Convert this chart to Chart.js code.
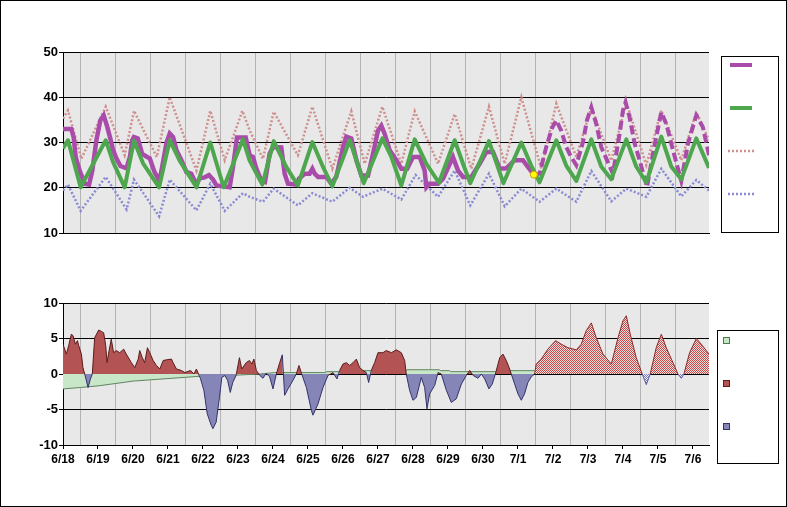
<!DOCTYPE html>
<html>
<head>
<meta charset="utf-8">
<script src="https://cdn.jsdelivr.net/npm/chart.js@4.4.0/dist/chart.umd.min.js"></script>
<style>
  html, body { margin: 0; padding: 0; background: #fff; }
  .wrap { position: absolute; left: 0; }
  #top-wrap { top: 0; }
  #bottom-wrap { top: 250px; }
  #frame { position: absolute; left: 0; top: 0; width: 787px; height: 507px; box-sizing: border-box; border: 1px solid #000; pointer-events: none; }
</style>
</head>
<body>
<div class="wrap" id="top-wrap"><canvas id="temp-chart" width="787" height="245"></canvas></div>
<div class="wrap" id="bottom-wrap"><canvas id="dev-chart" width="787" height="257"></canvas></div>
<div id="frame"></div>
<script>
// x values are hours since 6/18 00:00
const dayLabels = ['6/18', '6/19', '6/20', '6/21', '6/22', '6/23', '6/24', '6/25', '6/26', '6/27',
    '6/28', '6/29', '6/30', '7/1', '7/2', '7/3', '7/4', '7/5', '7/6'];
const tempTicks = [10, 20, 30, 40, 50];
const devTicks = [-10, -5, 0, 5, 10];

// observed temperature
const obsHours = [0, 5.7, 7.3, 8.7, 11.4, 14.9, 17.9, 20.1, 22.9, 25.6, 27.9, 30.4, 32.2, 34.4, 36.6, 39.4, 43.5, 46, 47.5, 48.6,
    51.3, 54.3, 57.7, 59.5, 62.7, 66.2, 68.5, 71, 73.2, 75.5, 77.8, 81.2, 84.6, 88, 91.5, 93.7, 97.2, 100.1, 102.9, 105.2,
    114.3, 116.6, 119.3, 125.3, 128, 130.3, 132.6, 136, 138.5, 141.7, 144, 149.7, 152, 154.3, 160, 161.8, 165.7, 169.1, 171, 172.6,
    174.9, 180.6, 184, 187.4, 192, 194.3, 197.7, 201.2, 204.6, 209.2, 212.6, 216, 218.3, 220.6, 224, 228.6, 232, 236, 240, 244.6,
    248, 249.2, 251.4, 257.2, 260.6, 267.4, 270.9, 274.3, 280, 285.7, 290.3, 294.9, 299.5, 304, 309.7, 315.4, 318.8, 322.9];
const obsTemp = [33, 33, 31.2, 26.8, 23.8, 20.9, 20.7, 23.8, 30.5, 34.9, 36, 33.4, 31.2, 28.3, 26.5, 24.8, 24.3, 27, 30.5, 31.2,
    30.9, 27.5, 26.8, 26.5, 23.5, 21.5, 25.5, 30, 32, 31.2, 28.3, 26.1, 23.5, 23.1, 20.7, 22.1, 22.3, 22.8, 21.8, 20.5,
    20.1, 24.6, 31.1, 31.1, 27.2, 26.8, 24.2, 21.6, 21.3, 27.5, 29, 28.9, 23.1, 20.9, 20.7, 22, 23.1, 23.1, 24.2, 23.1,
    22.4, 22.4, 20.9, 22.4, 29, 31.3, 30.9, 26.1, 22.7, 22.7, 27.5, 32.6, 33.7, 31.9, 28.3, 26.1, 24.2, 24.2, 26.8, 26.8,
    23.8, 20.1, 20.9, 20.9, 22, 26.8, 23.8, 22.4, 22.4, 25.3, 27.9, 27.9, 24.2, 24.3, 26.1, 26.1, 24.6, 22.9];
const lastObs = [322.9, 22.9];

// forecast temperature
const fcstHours = [322.9, 326.8, 331.4, 335.5, 338.3, 341.7, 345.1, 348.5, 352, 356.6, 359.3, 362.3, 365.7, 369.1, 372.5, 377.1,
    381.7, 384, 385.8, 388.5, 392, 395.4, 398, 400.5, 405, 410.3, 413.7, 418.3, 424, 428.6, 434.3, 438.8, 443];
const fcstTemp = [22.9, 23.1, 29, 33.3, 34.9, 32.6, 29, 26.8, 25, 30.1, 34.9, 37.8, 34.1, 29, 26.5, 23.1,
    31.9, 37.1, 38.9, 35.6, 29.8, 26.1, 23, 20.2, 28.3, 36.7, 34.1, 28.3, 21.5, 29.8, 36, 33.4, 27.2];

// normal temperature
const normHours = [0, 3.4, 12.1, 29.3, 34.3, 42.3, 48.7, 54.9, 65.9, 73.2, 80, 91.5, 101, 110.2, 123.4, 128, 136.7, 144.5, 153.1, 161.1,
    171, 178.3, 184.7, 196.6, 201.2, 206.2, 219, 225.2, 232, 241.2, 249.2, 257.8, 268.6, 274.3, 279.3, 292.1, 302, 314.3, 321.1, 326.8,
    338.3, 345.1, 352, 362.3, 369.1, 376, 386.3, 393.1, 400, 410.3, 417.1, 424, 434.3, 443];
const normTemp = [28.7, 30.5, 20.1, 30.5, 25.7, 20.1, 30.4, 25.4, 20.1, 30.5, 26, 20.1, 30, 20.1, 30.7, 26, 20.7, 30.3, 24.6, 20.5,
    30.1, 24.6, 20.3, 30.5, 26, 21, 30.9, 26.8, 20.5, 30.7, 25.3, 21.1, 30.5, 25.3, 21, 30.3, 21, 30, 24.9, 21.2,
    30.5, 24.9, 21.5, 30.7, 24.7, 21.9, 30.7, 24.7, 21.2, 31.3, 24.7, 21.9, 30.9, 24.4];

// record high / record low
const highHours = [0, 3.4, 12.6, 29.3, 42.3, 48.7, 64.3, 73.2, 91.5, 101, 110.9, 123, 128, 137.1, 144.5, 161.1, 171, 184.7, 197.7, 206.9,
    219, 232, 241.2, 257.2, 268.6, 280, 292.1, 302.9, 314.3, 328, 338.3, 352, 362.3, 376, 386.3, 400, 410.3, 424, 434.3, 443];
const highTemp = [35.3, 37.1, 26.4, 37.9, 27.2, 37, 26.8, 40, 23.8, 37, 26.1, 37, 32.7, 26.4, 36.8, 27.2, 37.9, 24.2, 36.9, 25.3,
    37.9, 25.3, 36.9, 25.3, 36.3, 24.2, 37.9, 25.3, 40, 24.2, 38.6, 26.8, 37.8, 26, 38.9, 25, 37.1, 26.1, 36.7, 30.5];
const lowHours = [0, 3.4, 12.1, 29.3, 43.6, 48.7, 65.9, 73.2, 91.5, 101, 110.9, 123.4, 128, 137.1, 144.5, 161.1, 171, 184.7, 196.6, 205.7,
    219, 232, 241.8, 257.2, 268.6, 279.3, 292.1, 302.9, 314.3, 326.8, 338.3, 352, 362.3, 376, 386.3, 400, 410.3, 424, 434.3, 443];
const lowTemp = [19.4, 20.7, 14.9, 22.4, 15.2, 21.8, 13.7, 21.8, 15, 20.9, 14.9, 18.8, 18, 16.9, 19.8, 16.1, 18.8, 16.9, 20, 18,
    19.8, 17.4, 22.8, 18, 23.8, 16.1, 23.1, 15.9, 19.8, 16.9, 19.8, 16.9, 23.7, 17, 19.8, 18, 24.2, 18.1, 21.7, 19.4];

// deviation from normal (observed)
const devHours = [0, 2.3, 3.9, 5.7, 6.9, 8.5, 9.9, 10.8, 12.6, 13.7, 14.9, 17.2, 18.8, 20.1, 21.7, 24.5, 26.3, 27.9, 29.3, 30.2,
    31.6, 33.1, 34.7, 36.6, 38.9, 41.6, 43.4, 46.9, 49.2, 51.6, 52.6, 54.4, 56, 57.9, 59.5, 61.8, 64.1, 66.4, 68.7, 71,
    74.4, 75.5, 77.8, 81.2, 83.6, 87.5, 89.7, 91.5, 93.3, 94.2, 96.6, 98.9, 101.6, 102.8, 105, 107.3, 108.9, 111, 112.9, 114.7,
    116.4, 118.7, 121, 122.6, 125.6, 127.9, 129.5, 130.9, 132.6, 134.9, 137.1, 139.4, 141.7, 144, 146.3, 148.6, 150.4, 152, 154.3, 157.7,
    160, 161.8, 163.4, 166.9, 170.3, 171.4, 174.9, 178.3, 181.7, 185.2, 187.9, 189.7, 192, 194.3, 196.6, 198.9, 201.2, 203.4, 205.7, 208,
    209.6, 211.4, 213.7, 216, 219.4, 221.7, 225.2, 228.6, 232, 234.3, 235.4, 237.7, 240, 242.3, 245.7, 248, 249.6, 251.4, 254.9, 257.2,
    259.4, 262.9, 266.3, 269.7, 273.2, 276.6, 278.9, 281.2, 284.6, 286.9, 289.2, 292.1, 294.4, 296.5, 299.5, 301.7, 304, 306.3, 307.4, 309.7,
    312, 314.3, 316.5, 318.8, 321.1, 323.4];
const devValues = [4.2, 2.8, 4.0, 5.6, 5.4, 4.2, 4.7, 4.0, 2.8, 0.9, 0, -1.9, -0.7, 0, 5.1, 6.2, 6.0, 5.8, 4.0, 1.6,
    3.3, 4.9, 3.0, 3.3, 3.0, 3.5, 2.8, 1.6, 0.9, 2.1, 3.3, 2.3, 1.6, 3.7, 3.0, 1.9, 1.2, 0.7, 1.9, 2.0,
    2.1, 1.6, 0.7, 0.5, 0.2, 0.5, 0, 0.7, -0.2, -0.6, -2.3, -5.6, -7.2, -7.7, -6.8, -3.3, -0.5, -0.2, -0.9, -2.6,
    -1.2, -0.2, 2.3, 0.7, 1.6, 1.9, 1.4, 2.1, 0.5, -0.2, -0.6, 0.1, -0.4, -2.1, 0, 1.6, 2.7, -3.0, -2.1, -0.9,
    0, 1.2, 0.2, -1.9, -5.1, -5.8, -4.2, -1.9, -0.2, 0.2, -0.7, 0.5, 1.4, 1.6, 1.2, 1.6, 2.1, 0.9, 0.5, 0.2,
    -1.2, 0.5, 1.6, 3.0, 3.0, 3.3, 3.0, 3.4, 3.0, 1.9, 0, -2.3, -3.7, -3.3, -0.5, -1.9, -4.9, -2.8, -1.6, 0.2,
    0, -2.3, -4.0, -3.5, -1.4, -0.2, 0.5, -0.2, -0.6, 0, -0.7, -2.1, -1.4, 0, 2.3, 2.8, 1.9, 0.7, 0, -1.4,
    -2.8, -3.7, -2.8, -1.2, -0.4, 0];

// deviation from normal (forecast)
const fcDevHours = [323.4, 324.5, 328, 332.5, 337.8, 341.7, 346.3, 352, 355.4, 358.8, 362.3, 365.7, 370.3, 376, 380.6, 384, 386.3, 389,
    393.1, 397.2, 400, 402.7, 406.8, 410.3, 413.7, 418.3, 421.7, 424, 425.8, 429.7, 434.3, 437.7, 443];
const fcDevValues = [0, 1.4, 2.1, 3.5, 4.7, 4.2, 3.7, 3.4, 4.2, 6.1, 7.2, 5.1, 2.8, 1.4, 5.1, 7.5, 8.2, 5.6,
    2.3, 0, -1.5, 0, 3.7, 5.6, 3.7, 1.6, 0, -0.6, 0, 3.0, 5.0, 4.2, 2.8];

// running mean deviation
const meanHours = [0, 12, 25, 48, 65, 85, 95, 110, 125, 135, 145, 180, 181, 203, 204, 235, 236, 258, 259, 265, 266, 300, 301, 323.4];
const meanValues = [-2.1, -1.9, -1.65, -1.0, -0.75, -0.45, -0.3, -0.25, -0.1, 0, 0.2, 0.2, 0.33, 0.33, 0.47, 0.47, 0.6, 0.6, 0.47, 0.47, 0.33, 0.33, 0.47, 0.47];

const X_MAX = 443;
const PURPLE = '#a94ca9', GREEN = '#4ea64e', PINK = '#cf8f8f', BLUE = '#8a8ad4';

function pts(hours, values) {
    return hours.map((h, i) => ({ x: h, y: values[i] }));
}

const halfDays = [];
dayLabels.forEach((d, i) => {
    halfDays.push(i * 24);
    if (i * 24 + 12 <= X_MAX) halfDays.push(i * 24 + 12);
});

const plotBg = {
    id: 'plotBg',
    beforeDraw(chart) {
        const { ctx, chartArea: a } = chart;
        ctx.save();
        ctx.fillStyle = '#e8e8e8';
        ctx.fillRect(a.left, a.top, a.right - a.left, a.bottom - a.top);
        ctx.restore();
    }
};

const tickFont = { family: "'Liberation Sans', Arial, sans-serif", size: 13, weight: 'bold' };
const dateFont = { family: "'Liberation Sans Narrow', 'Liberation Sans', Arial, sans-serif", size: 12, weight: 'bold' };

function xScale(showLabels) {
    return {
        type: 'linear',
        min: 0,
        max: X_MAX,
        afterBuildTicks: s => { s.ticks = halfDays.map(v => ({ value: v })); },
        afterFit: s => { s.height = showLabels ? 62 : 0; },
        border: { display: true, color: '#000', width: 1 },
        grid: {
            color: c => (c.tick && c.tick.value % 24 === 12) ? '#b4b4b4' : 'rgba(0,0,0,0)',
            tickColor: c => (c.tick && c.tick.value % 24 === 0) ? '#000' : 'rgba(0,0,0,0)',
            drawTicks: showLabels,
            tickLength: 4,
            lineWidth: 1
        },
        ticks: {
            display: showLabels,
            autoSkip: false,
            maxRotation: 0,
            padding: 3,
            color: '#000',
            font: dateFont,
            callback: v => (v % 24 === 0) ? dayLabels[v / 24] : ''
        }
    };
}

function yScale(min, max, tickList, z) {
    return {
        min: min,
        max: max,
        z: z,
        afterBuildTicks: s => { s.ticks = tickList.map(v => ({ value: v })); },
        afterFit: s => { s.width = 63; },
        border: { display: true, color: '#000', width: 1 },
        grid: { color: '#000', lineWidth: 1, tickLength: 4, drawTicks: true },
        ticks: { color: '#000', font: tickFont, padding: 1 }
    };
}

// legend boxes with no labels
const tempLegend = {
    id: 'tempLegend',
    afterDraw(chart) {
        const ctx = chart.ctx;
        ctx.save();
        ctx.fillStyle = '#fff';
        ctx.fillRect(721.5, 56.5, 57, 176);
        ctx.strokeStyle = '#000';
        ctx.lineWidth = 1;
        ctx.strokeRect(721.5, 56.5, 57, 176);
        const rows = [
            { y: 65, color: PURPLE, w: 4, dash: [], x0: 730, x1: 752 },
            { y: 108, color: GREEN, w: 4, dash: [], x0: 730, x1: 752 },
            { y: 151, color: PINK, w: 2.5, dash: [2, 2], x0: 728, x1: 755 },
            { y: 194, color: BLUE, w: 2.5, dash: [2, 2], x0: 728, x1: 755 }
        ];
        rows.forEach(r => {
            ctx.beginPath();
            ctx.strokeStyle = r.color;
            ctx.lineWidth = r.w;
            ctx.setLineDash(r.dash);
            ctx.moveTo(r.x0, r.y);
            ctx.lineTo(r.x1, r.y);
            ctx.stroke();
        });
        ctx.restore();
    }
};

const devLegend = {
    id: 'devLegend',
    afterDraw(chart) {
        const ctx = chart.ctx;
        ctx.save();
        ctx.fillStyle = '#fff';
        ctx.fillRect(717.5, 80.5, 61, 133);
        ctx.strokeStyle = '#000';
        ctx.lineWidth = 1;
        ctx.strokeRect(717.5, 80.5, 61, 133);
        const boxes = [
            { y: 87.5, fill: '#c8e6c8', line: '#4f7a4f' },
            { y: 130.5, fill: '#b35353', line: '#5a1c1c' },
            { y: 173.5, fill: '#8585b8', line: '#33336a' }
        ];
        boxes.forEach(b => {
            ctx.fillStyle = b.fill;
            ctx.fillRect(723.5, b.y, 6, 6);
            ctx.strokeStyle = b.line;
            ctx.strokeRect(723.5, b.y, 6, 6);
        });
        ctx.restore();
    }
};

const baseOptions = {
    responsive: false,
    animation: false,
    plugins: { legend: { display: false }, tooltip: { enabled: false } },
    elements: { point: { radius: 0 }, line: { tension: 0 } }
};

new Chart(document.getElementById('temp-chart'), {
    type: 'line',
    data: {
        datasets: [
            { data: [{ x: lastObs[0], y: lastObs[1] }], showLine: false, pointRadius: 3.5, pointBackgroundColor: '#ffff00', pointBorderColor: '#d0a000', pointBorderWidth: 1 },
            { data: pts(normHours, normTemp), borderColor: GREEN, borderWidth: 4, borderJoinStyle: 'round' },
            { data: pts(fcstHours, fcstTemp), borderColor: PURPLE, borderWidth: 4, borderDash: [9, 4] },
            { data: pts(obsHours, obsTemp), borderColor: PURPLE, borderWidth: 4.5 },
            { data: pts(lowHours, lowTemp), borderColor: BLUE, borderWidth: 2.5, borderDash: [2, 2] },
            { data: pts(highHours, highTemp), borderColor: PINK, borderWidth: 2.5, borderDash: [2, 2] }
        ]
    },
    options: Object.assign({}, baseOptions, {
        layout: { padding: { left: 0, top: 52, right: 78, bottom: 12 } },
        scales: { x: xScale(false), y: yScale(10, 50, tempTicks, 0) }
    }),
    plugins: [plotBg, tempLegend]
});

const devCanvas = document.getElementById('dev-chart');
function hatch(fg, bg) {
    const c = document.createElement('canvas');
    c.width = 2; c.height = 2;
    const g = c.getContext('2d');
    g.fillStyle = bg; g.fillRect(0, 0, 2, 2);
    g.fillStyle = fg; g.fillRect(0, 0, 1, 1); g.fillRect(1, 1, 1, 1);
    return devCanvas.getContext('2d').createPattern(c, 'repeat');
}
const redHatch = hatch('#c44a4a', '#f6dede');
const blueHatch = hatch('#7c7cc0', '#eeeef8');

const signColor = (pos, neg) => c => ((c.p0.parsed.y + c.p1.parsed.y) < 0 ? neg : pos);

new Chart(devCanvas, {
    type: 'line',
    data: {
        datasets: [
            { data: pts(devHours, devValues), borderWidth: 1, borderColor: '#5a1c1c',
              segment: { borderColor: signColor('#5a1c1c', '#33336a') },
              fill: { target: 'origin', above: '#b35353', below: '#8585b8' } },
            { data: pts(fcDevHours, fcDevValues), borderWidth: 1, borderColor: '#8a2a2a',
              segment: { borderColor: signColor('#8a2a2a', '#5a5aa0') },
              fill: { target: 'origin', above: redHatch, below: blueHatch } },
            { data: pts(meanHours, meanValues), borderWidth: 1, borderColor: '#5f855f',
              backgroundColor: '#c8e6c8', fill: 'origin' }
        ]
    },
    options: Object.assign({}, baseOptions, {
        layout: { padding: { left: 0, top: 53, right: 78, bottom: 0 } },
        scales: { x: xScale(true), y: yScale(-10, 10, devTicks, 1) }
    }),
    plugins: [plotBg, devLegend]
});
</script>
</body>
</html>
